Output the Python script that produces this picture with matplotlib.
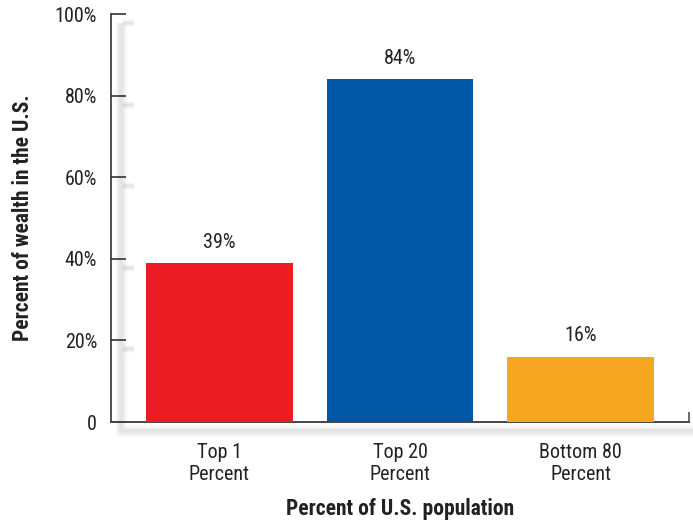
import matplotlib
matplotlib.use("Agg")
import matplotlib.pyplot as plt
import matplotlib.transforms as mtransforms

# data
categories = ["Top 1\nPercent", "Top 20\nPercent", "Bottom 80\nPercent"]
shares = [39, 84, 16]
value_labels = ["39%", "84%", "16%"]
bar_colors = ["#ED1C24", "#0057A8", "#F6A620"]
y_ticks = [0, 20, 40, 60, 80, 100]
y_tick_labels = ["0", "20%", "40%", "60%", "80%", "100%"]

plt.rcParams["font.family"] = ["Roboto Condensed", "Archivo Narrow", "DejaVu Sans"]

fig = plt.figure(figsize=(6.93, 5.21), dpi=100)
ax = fig.add_axes([111 / 693, 1 - 422 / 521, 578 / 693, 408 / 521])

x = list(range(len(categories)))
ax.bar(x, shares, width=0.81, color=bar_colors, zorder=3)
for xi, v, lab in zip(x, shares, value_labels):
    ax.annotate(lab, (xi, v), xytext=(0, 11), textcoords="offset points",
                ha="center", va="baseline", fontsize=14.5, color="#222222")

ax.set_xlim(-0.6, 2.6)
ax.set_ylim(0, 100)

ax.set_yticks(y_ticks)
ax.set_yticklabels(y_tick_labels)
ax.tick_params(axis="y", direction="in", length=11, width=1.1, color="#222222",
               pad=10, labelsize=14.5, labelcolor="#222222")
ax.set_xticks(x)
ax.set_xticklabels(categories, linespacing=1.2)
ax.tick_params(axis="x", length=0, pad=15, labelsize=14.5, labelcolor="#222222")
# small tick at the end of the x axis
ax.set_xticks([2.6], minor=True)
ax.tick_params(axis="x", which="minor", direction="in", length=7, width=1.1,
               color="#444444")

for side in ["top", "right"]:
    ax.spines[side].set_visible(False)
ax.spines["left"].set_color("#222222")
ax.spines["bottom"].set_color("#444444")
ax.spines["left"].set_linewidth(1.1)
ax.spines["bottom"].set_linewidth(1.4)

ax.set_ylabel("Percent of wealth in the U.S.", fontsize=15.5, fontweight="bold",
              labelpad=15, color="#222222")
ax.set_xlabel("Percent of U.S. population", fontsize=15.5, fontweight="bold",
              labelpad=10, color="#222222")

# soft gray drop shadow behind the axis frame
shift = mtransforms.ScaledTranslation(10 / 100, -9 / 100, fig.dpi_scale_trans)
blend = mtransforms.blended_transform_factory(ax.transAxes, ax.transData) + shift
tick_len = 13 / 578
for lw, a in [(9, 0.04), (7, 0.06), (5, 0.08), (3, 0.10)]:
    ax.plot([0, 0, 1.05], [100, 0, 0], transform=blend, color="#9a9a9a",
            lw=lw, alpha=a, clip_on=False, zorder=0, solid_capstyle="butt")
    for t in y_ticks[1:]:
        ax.plot([0.004, tick_len], [t, t], transform=blend, color="#9a9a9a",
                lw=lw * 0.6, alpha=a, clip_on=False, zorder=0,
                solid_capstyle="butt")

fig.savefig("out.png", dpi=100)
